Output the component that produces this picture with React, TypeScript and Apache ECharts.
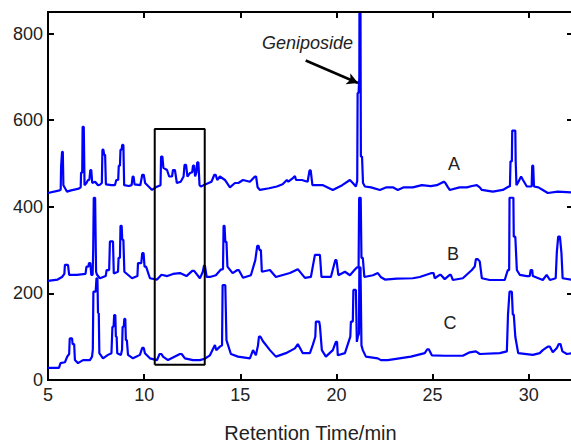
import React, { useEffect, useRef } from "react";
import * as echarts from "echarts";

// Retention time (min) vs. response
const traceA: [number, number][] = [
  [5.0, 432], [5.6, 438], [5.66, 440], [5.68, 492], [5.71, 492], [5.73, 527], [5.77, 527], [5.8, 450], [5.99, 435],
  [6.2, 438], [6.6, 442], [6.7, 445], [6.72, 479], [6.78, 479], [6.8, 585], [6.86, 585], [6.9, 450], [7.0, 455],
  [7.08, 462], [7.15, 462], [7.2, 485], [7.25, 485], [7.3, 455], [7.45, 458], [7.6, 450], [7.7, 451], [7.8, 455],
  [7.83, 532], [7.88, 532], [7.92, 520], [7.97, 520], [8.01, 452], [8.3, 450], [8.48, 450], [8.55, 462], [8.65, 462],
  [8.68, 495], [8.74, 495], [8.77, 532], [8.83, 532], [8.86, 543], [8.92, 543], [8.96, 450], [9.2, 448], [9.35, 450],
  [9.4, 470], [9.45, 470], [9.5, 452], [9.8, 450], [9.9, 474], [9.98, 474], [10.05, 455], [10.41, 439], [10.6, 445],
  [10.85, 450], [10.88, 516], [10.95, 516], [11.0, 490], [11.19, 485], [11.3, 470], [11.45, 470], [11.5, 485],
  [11.6, 485], [11.7, 455], [11.9, 458], [12.05, 470], [12.1, 497], [12.18, 497], [12.25, 470], [12.38, 478],
  [12.5, 480], [12.54, 495], [12.6, 495], [12.65, 470], [12.72, 480], [12.76, 503], [12.82, 503], [12.88, 450],
  [12.95, 447], [13.2, 452], [13.5, 458], [13.65, 474], [13.72, 474], [13.8, 462], [13.94, 470], [14.2, 462],
  [14.46, 445], [14.72, 455], [14.9, 455], [15.14, 462], [15.5, 458], [15.76, 470], [15.82, 470], [15.9, 445],
  [16.02, 439], [16.5, 443], [16.9, 447], [17.2, 452], [17.42, 462], [17.5, 458], [17.7, 465], [17.84, 471],
  [17.9, 462], [18.2, 462], [18.5, 458], [18.6, 484], [18.66, 484], [18.75, 450], [19.3, 450], [19.81, 439],
  [20.3, 450], [20.7, 462], [20.85, 455], [21.01, 447], [21.08, 460], [21.1, 663], [21.15, 663], [21.19, 700],
  [21.2, 1000], [21.24, 1000], [21.27, 516], [21.33, 516], [21.38, 455], [21.48, 447], [21.8, 445], [22.26, 439],
  [22.6, 445], [22.93, 445], [23.19, 439], [23.5, 445], [23.97, 445], [24.44, 450], [24.9, 448], [25.22, 450],
  [25.58, 458], [25.65, 456], [25.8, 445], [25.89, 439], [26.4, 445], [26.78, 445], [27.05, 448], [27.3, 450],
  [27.45, 445], [27.56, 439], [28.13, 435], [28.65, 439], [28.96, 447], [29.02, 447], [29.05, 505], [29.12, 505],
  [29.14, 576], [29.3, 576], [29.32, 505], [29.36, 450], [29.43, 455], [29.6, 470], [29.7, 462], [29.9, 447],
  [30.15, 447], [30.18, 495], [30.23, 495], [30.27, 447], [30.5, 445], [30.73, 439], [30.99, 432], [31.5, 435],
  [32.3, 433],
];

const traceB: [number, number][] = [
  [5.0, 229], [5.5, 232], [5.73, 238], [5.85, 245], [5.88, 266], [6.04, 266], [6.1, 243], [6.5, 243], [6.95, 245],
  [7.0, 262], [7.1, 262], [7.13, 270], [7.2, 270], [7.25, 243], [7.32, 243], [7.35, 300], [7.38, 421], [7.45, 421],
  [7.5, 250], [7.55, 243], [7.7, 235], [8.0, 240], [8.05, 254], [8.18, 254], [8.22, 320], [8.38, 320], [8.42, 246],
  [8.64, 250], [8.67, 282], [8.74, 282], [8.77, 356], [8.83, 356], [8.86, 324], [8.92, 324], [8.97, 250],
  [9.37, 235], [9.65, 240], [9.68, 270], [9.85, 270], [9.9, 293], [9.97, 293], [10.02, 262], [10.1, 262],
  [10.3, 235], [10.67, 232], [10.9, 243], [11.2, 240], [11.5, 245], [11.86, 247], [12.2, 240], [12.5, 252],
  [12.6, 252], [12.9, 235], [12.95, 240], [13.05, 250], [13.11, 264], [13.16, 264], [13.25, 238], [13.42, 238],
  [13.73, 242], [13.99, 255], [14.1, 256], [14.13, 356], [14.18, 356], [14.22, 319], [14.28, 319], [14.33, 262],
  [14.6, 247], [14.85, 254], [14.92, 254], [15.14, 236], [15.55, 242], [15.78, 277], [15.88, 310], [15.95, 310],
  [16.0, 300], [16.07, 300], [16.12, 250], [16.54, 254], [16.85, 238], [17.58, 247], [17.99, 256], [18.36, 236],
  [18.67, 238], [18.88, 289], [19.14, 289], [19.22, 238], [19.71, 238], [19.94, 277], [20.0, 277], [20.1, 242],
  [20.44, 250], [20.7, 242], [20.96, 255], [21.06, 260], [21.15, 260], [21.18, 421], [21.26, 421], [21.3, 282],
  [21.37, 282], [21.45, 238], [21.9, 242], [22.15, 247], [22.3, 238], [22.52, 232], [23.14, 234], [23.97, 235],
  [24.33, 238], [24.95, 247], [25.05, 247], [25.11, 235], [25.37, 243], [25.42, 243], [25.63, 233], [25.89, 243],
  [25.95, 243], [26.05, 231], [26.57, 235], [27.04, 254], [27.19, 262], [27.25, 279], [27.35, 279], [27.45, 274],
  [27.56, 235], [27.97, 231], [28.75, 231], [28.91, 254], [28.98, 254], [29.0, 421], [29.2, 421], [29.22, 331],
  [29.3, 331], [29.38, 254], [29.53, 243], [29.9, 240], [30.05, 240], [30.1, 254], [30.18, 254], [30.21, 240],
  [30.73, 231], [30.93, 243], [31.1, 231], [31.4, 235], [31.46, 296], [31.53, 331], [31.62, 331], [31.7, 293],
  [31.76, 235], [32.3, 231],
];

const traceC: [number, number][] = [
  [5.0, 28], [5.57, 28], [5.65, 39], [5.88, 41], [6.0, 54], [6.1, 60], [6.13, 96], [6.25, 96], [6.28, 83],
  [6.36, 83], [6.4, 46], [6.56, 39], [6.82, 46], [7.18, 46], [7.29, 54], [7.33, 70], [7.36, 204], [7.48, 204],
  [7.52, 235], [7.57, 235], [7.6, 155], [7.64, 155], [7.67, 62], [7.86, 50], [8.12, 58], [8.3, 62], [8.35, 123],
  [8.41, 123], [8.44, 150], [8.5, 150], [8.53, 100], [8.57, 100], [8.6, 62], [8.79, 58], [8.85, 70], [8.88, 123],
  [8.94, 123], [8.97, 141], [9.02, 141], [9.05, 92], [9.1, 92], [9.16, 58], [9.42, 50], [9.78, 58], [9.9, 74],
  [9.98, 74], [10.04, 62], [10.3, 50], [10.67, 46], [10.8, 60], [10.9, 60], [10.98, 54], [11.24, 46], [11.86, 60],
  [11.95, 60], [12.12, 50], [12.54, 46], [12.9, 46], [13.15, 49], [13.42, 57], [13.68, 81], [13.75, 69],
  [13.94, 77], [14.05, 80], [14.08, 219], [14.22, 219], [14.28, 92], [14.51, 60], [14.88, 54], [15.5, 50],
  [15.66, 69], [15.81, 57], [15.92, 80], [15.97, 100], [16.05, 100], [16.17, 90], [16.54, 69], [16.85, 54],
  [17.37, 62], [17.84, 73], [17.99, 83], [18.25, 62], [18.62, 62], [18.77, 81], [18.9, 100], [18.93, 135],
  [19.1, 135], [19.14, 125], [19.24, 69], [19.45, 54], [19.81, 69], [19.97, 88], [20.03, 88], [20.07, 57],
  [20.44, 62], [20.72, 100], [20.75, 135], [20.85, 135], [20.88, 208], [21.01, 208], [21.06, 88], [21.11, 100],
  [21.17, 107], [21.19, 260], [21.25, 260], [21.3, 80], [21.37, 69], [21.53, 54], [22.15, 50], [22.31, 46],
  [22.67, 46], [23.87, 54], [24.59, 62], [24.72, 71], [24.8, 71], [24.96, 57], [25.63, 56], [26.57, 56],
  [26.93, 64], [27.25, 66], [27.45, 60], [28.49, 62], [28.86, 66], [28.92, 151], [29.0, 204], [29.12, 204],
  [29.17, 151], [29.22, 151], [29.3, 100], [29.45, 62], [30.21, 58], [30.57, 62], [30.73, 69], [30.99, 77],
  [31.1, 77], [31.25, 64], [31.46, 74], [31.56, 83], [31.65, 83], [31.75, 66], [31.98, 60], [32.3, 62],
];

// Highlighted window (rectangle) and Geniposide arrow, in data units
const boxTimes = [10.55, 13.15];
const boxLevels = [35, 580];
const arrowFrom: [number, number] = [18.4, 738];
const arrowTo: [number, number] = [21.12, 686];

const xMin = 5;
const xMax = 32.3;
const yMin = 0;
const yMax = 850;

export default function App() {
  const ref = useRef<HTMLDivElement>(null);

  useEffect(() => {
    const chart = echarts.init(ref.current!, null, { renderer: "svg" });
    const font = "'Liberation Sans', Arial, Helvetica, sans-serif";
    const mkLine = () => ({ show: true, onZero: false, lineStyle: { color: "#000", width: 2 } });
    const mkTick = () => ({ show: true, inside: true, length: 6, lineStyle: { color: "#000", width: 2 } });
    const trace = (name: string, data: [number, number][]) => ({
      type: "line",
      name,
      data,
      symbol: "none",
      showSymbol: false,
      clip: true,
      lineStyle: { color: "#0000ff", width: 2.2 },
      itemStyle: { color: "#0000ff" },
      z: 3,
    });
    const boxData: [number, number][] = [
      [boxTimes[0], boxLevels[0]],
      [boxTimes[1], boxLevels[0]],
      [boxTimes[1], boxLevels[1]],
      [boxTimes[0], boxLevels[1]],
      [boxTimes[0], boxLevels[0]],
    ];
    chart.setOption({
      animation: false,
      grid: {
        left: 48,
        top: 12,
        right: -2,
        bottom: 63,
        outerBoundsMode: "none",
        show: true,
        borderColor: "#000",
        borderWidth: 2,
      },
      xAxis: [
        {
          type: "value",
          min: xMin,
          max: xMax,
          interval: 5,
          position: "bottom",
          name: "Retention Time/min",
          nameLocation: "middle",
          nameGap: 43,
          nameTextStyle: { fontSize: 20, color: "#222", fontFamily: font },
          axisLine: mkLine(),
          axisTick: mkTick(),
          axisLabel: { fontSize: 18, color: "#222", margin: 6, fontFamily: font, showMaxLabel: false },
          splitLine: { show: false },
        },
        {
          type: "value",
          min: xMin,
          max: xMax,
          interval: 5,
          position: "top",
          axisLine: mkLine(),
          axisTick: mkTick(),
          axisLabel: { show: false },
          splitLine: { show: false },
        },
      ],
      yAxis: [
        {
          type: "value",
          min: yMin,
          max: yMax,
          interval: 200,
          position: "left",
          axisLine: mkLine(),
          axisTick: mkTick(),
          axisLabel: { fontSize: 18, color: "#222", margin: 5, fontFamily: font, showMaxLabel: false },
          splitLine: { show: false },
        },
        {
          type: "value",
          min: yMin,
          max: yMax,
          interval: 200,
          position: "right",
          axisLine: mkLine(),
          axisTick: mkTick(),
          axisLabel: { show: false },
          splitLine: { show: false },
        },
      ],
      series: [
        trace("A", traceA),
        trace("B", traceB),
        trace("C", traceC),
        {
          type: "line",
          name: "window",
          data: boxData,
          symbol: "none",
          lineStyle: { color: "#000", width: 2 },
          z: 4,
          markLine: {
            silent: true,
            symbol: ["none", "arrow"],
            symbolSize: [9, 11],
            label: { show: false },
            lineStyle: { color: "#000", width: 2.5, type: "solid" },
            data: [[{ coord: arrowFrom }, { coord: arrowTo }]],
          },
        },
      ],
      graphic: [
        {
          type: "line",
          shape: { x1: 47, y1: 12, x2: 571, y2: 12 },
          style: { stroke: "#000", lineWidth: 2 },
          z: 100,
          silent: true,
        },
        {
          type: "text",
          x: 262,
          y: 34,
          style: { text: "Geniposide", font: `italic 18px ${font}`, fill: "#222" },
        },
        {
          type: "text",
          x: 454,
          y: 164,
          style: { text: "A", font: `18px ${font}`, fill: "#222", align: "center", verticalAlign: "middle" },
        },
        {
          type: "text",
          x: 453,
          y: 254,
          style: { text: "B", font: `18px ${font}`, fill: "#222", align: "center", verticalAlign: "middle" },
        },
        {
          type: "text",
          x: 450,
          y: 323,
          style: { text: "C", font: `18px ${font}`, fill: "#222", align: "center", verticalAlign: "middle" },
        },
      ],
    });
    return () => chart.dispose();
  }, []);

  return (
    <div
      ref={ref}
      style={{ position: "absolute", left: 0, top: 0, width: 571, height: 443, background: "#fff" }}
    />
  );
}
